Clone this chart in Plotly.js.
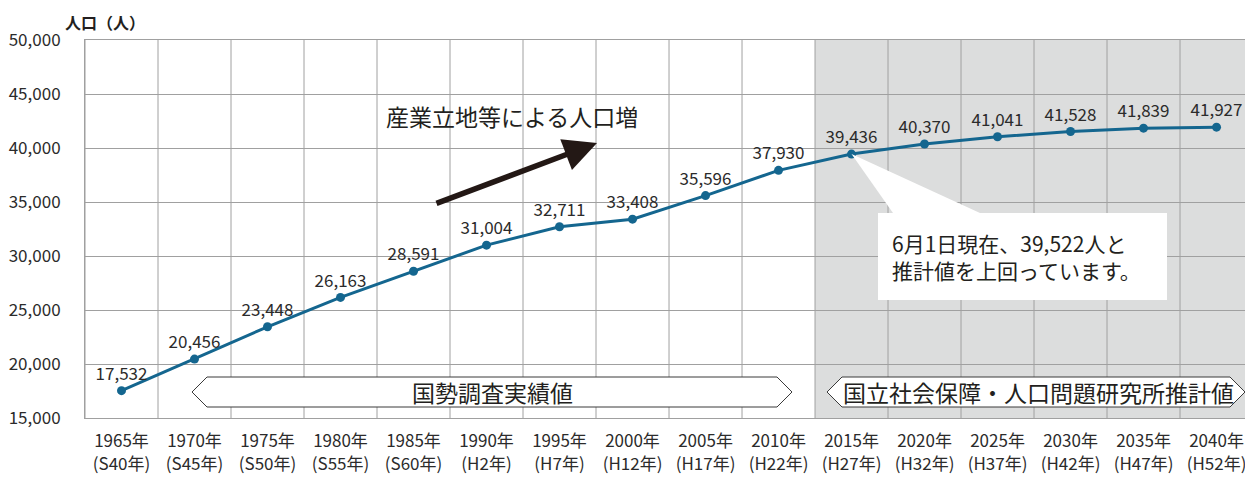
<!DOCTYPE html>
<html>
<head>
<meta charset="utf-8">
<script src="https://cdn.plot.ly/plotly-3.0.1.min.js"></script>
<style>html,body{margin:0;padding:0;background:#fff;}#chart{width:1245px;height:479px;}</style>
</head>
<body>
<div id="chart"></div>
<script>
const years = ['1965年','1970年','1975年','1980年','1985年','1990年','1995年','2000年','2005年','2010年','2015年','2020年','2025年','2030年','2035年','2040年'];
const eras = ['(S40年)','(S45年)','(S50年)','(S55年)','(S60年)','(H2年)','(H7年)','(H12年)','(H17年)','(H22年)','(H27年)','(H32年)','(H37年)','(H42年)','(H47年)','(H52年)'];
const population = [17532, 20456, 23448, 26163, 28591, 31004, 32711, 33408, 35596, 37930, 39436, 40370, 41041, 41528, 41839, 41927];
const yTicks = [15000, 20000, 25000, 30000, 35000, 40000, 45000, 50000];
const actualLabel = '国勢調査実績値';
const forecastLabel = '国立社会保障・人口問題研究所推計値';
const arrowLabel = '産業立地等による人口増';
const noteLines = ['6月1日現在、39,522人と', '推計値を上回っています。'];
const yTitle = '人口（人）';
const firstForecast = 10; // index of 2015

const FONT = '"Noto Sans CJK JP", "Noto Sans", sans-serif';
const xIdx = years.map((_, i) => i);
const ticktext = years.map((y, i) => y + '<br>' + eras[i]);

// pixel helpers (plot: left 85, width 1160, top 40, height 378)
const XR = [-0.5, 15.39], YR = [15000, 50000];
const W = 1160, H = 378, L = 85, T = 40;
const px2x = p => XR[0] + (p - L) / W * (XR[1] - XR[0]);
const py2y = p => YR[1] - (p - T) / H * (YR[1] - YR[0]);

const shapes = [];
shapes.push({type:'rect', xref:'x', yref:'paper', x0: firstForecast - 0.5, x1: XR[1], y0:0, y1:1,
  fillcolor:'#dcdddd', line:{width:0}, layer:'below'});
for (let i = 0; i <= years.length; i++) {
  shapes.push({type:'line', xref:'x', yref:'paper', x0:i-0.5, x1:i-0.5, y0:0, y1:1,
    line:{color:'#a0a0a0', width:1}, layer:'below'});
}
function banner(xl, xr, yt, yb, tip) {
  const ym = (yt + yb) / 2;
  return `M ${xl} ${ym} L ${xl+tip} ${yt} L ${xr-tip} ${yt} L ${xr} ${ym} L ${xr-tip} ${yb} L ${xl+tip} ${yb} Z`;
}
const bt = py2y(377), bb = py2y(407), tip = 15 / 73;
shapes.push({type:'path', xref:'x', yref:'y', path: banner(px2x(192), px2x(792), bt, bb, tip),
  fillcolor:'#ffffff', line:{color:'#3a3a3a', width:1}, layer:'above'});
shapes.push({type:'path', xref:'x', yref:'y', path: banner(px2x(827), px2x(1245), bt, bb, tip),
  fillcolor:'#ffffff', line:{color:'#3a3a3a', width:1}, layer:'above'});
const ax0 = firstForecast, ay0 = population[firstForecast];
shapes.push({type:'path', xref:'x', yref:'y',
  path:`M ${ax0} ${ay0} L ${px2x(980)} ${py2y(213)} L ${px2x(893)} ${py2y(213)} Z`,
  fillcolor:'#ffffff', line:{width:0}, layer:'above'});
shapes.push({type:'rect', xref:'x', yref:'y', x0:px2x(878), x1:px2x(1167), y0:py2y(300), y1:py2y(213),
  fillcolor:'#ffffff', line:{width:0}, layer:'above'});

const annotations = [
  {xref:'paper', yref:'paper', x: (63 - L) / W, y: 1 + (T - 22) / H, xanchor:'left', yanchor:'middle',
   text: yTitle, showarrow:false, font:{family:FONT, size:16, color:'#231f20', weight:'bold'}},
  {xref:'x', yref:'y', x: px2x(492), y: (bt + bb) / 2, text: actualLabel, showarrow:false,
   font:{family:FONT, size:23, color:'#231f20'}},
  {xref:'x', yref:'y', x: px2x(1038), y: (bt + bb) / 2, text: forecastLabel, showarrow:false,
   font:{family:FONT, size:23, color:'#231f20'}},
  {xref:'x', yref:'y', x: px2x(512), y: py2y(116), text: arrowLabel, showarrow:false,
   font:{family:FONT, size:23, color:'#231f20'}},
  {xref:'x', yref:'y', x: px2x(597), y: py2y(143), axref:'x', ayref:'y', ax: px2x(435), ay: py2y(204),
   text:'', showarrow:true, arrowhead:2, arrowsize:1.2, arrowwidth:5.5, arrowcolor:'#231815'},
  {xref:'x', yref:'y', x: px2x(890), y: py2y(256), xanchor:'left', yanchor:'middle', align:'left',
   text: noteLines.join('<br>'), showarrow:false, font:{family:FONT, size:21, color:'#231f20'}}
];

const trace = {
  x: xIdx, y: population, type:'scatter', mode:'lines+markers+text',
  text: population.map(v => v.toLocaleString('en-US')),
  textposition:'top center',
  textfont:{family:FONT, size:17, color:'#2b2b2b'},
  line:{color:'#14668f', width:3},
  marker:{color:'#14668f', size:9},
  cliponaxis:false, hoverinfo:'skip'
};

const layout = {
  width:1245, height:479,
  margin:{l:L, r:0, t:T, b:479 - T - H, pad:0},
  paper_bgcolor:'#ffffff', plot_bgcolor:'rgba(0,0,0,0)',
  showlegend:false,
  font:{family:FONT, color:'#333333'},
  xaxis:{range:XR, tickmode:'array', tickvals:xIdx, ticktext:ticktext, showgrid:false, zeroline:false,
    showline:true, mirror:true, linecolor:'#a0a0a0', linewidth:1, ticks:'', ticklabelstandoff:8,
    ticklabeloverflow:'allow',
    tickfont:{family:FONT, size:17, color:'#2b2b2b'}, fixedrange:true},
  yaxis:{range:YR, tickmode:'array', tickvals:yTicks, ticktext:yTicks.map(v=>v.toLocaleString('en-US')),
    showgrid:true, gridcolor:'#a0a0a0', gridwidth:1, zeroline:false, showline:true, linecolor:'#a0a0a0',
    ticks:'', ticklabelstandoff:20, tickfont:{family:FONT, size:17, color:'#2b2b2b'}, fixedrange:true},
  shapes: shapes,
  annotations: annotations
};

Plotly.newPlot('chart', [trace], layout, {displayModeBar:false, staticPlot:true});
</script>
</body>
</html>
